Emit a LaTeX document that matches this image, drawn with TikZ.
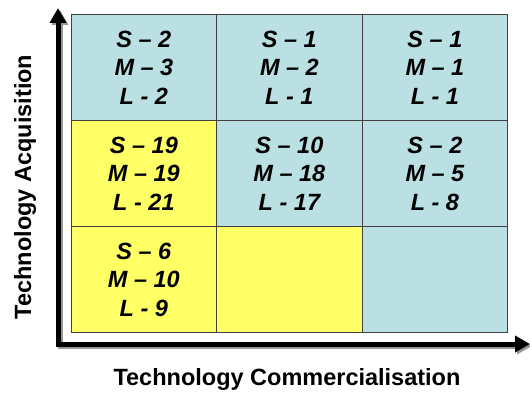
\documentclass[tikz,border=0pt]{standalone}
\usepackage{fontspec}
\setmainfont{Liberation Sans}
\usetikzlibrary{arrows.meta}
\definecolor{cellblue}{RGB}{187,224,228}
\definecolor{cellyellow}{RGB}{255,255,102}
\definecolor{gridline}{RGB}{64,64,64}
\definecolor{axisshade}{RGB}{150,150,150}
\begin{document}
\begin{tikzpicture}[x=1pt,y=-1pt,
  cell/.style={draw=gridline, line width=0.9pt, minimum width=145.5pt,
    minimum height=106pt, anchor=north west, inner sep=0pt, align=center,
    font=\fontsize{23.5}{28.5}\selectfont\bfseries\itshape},
  bluecell/.style={cell, fill=cellblue},
  yellowcell/.style={cell, fill=cellyellow},
  axisline/.style={line width=5pt, line join=miter,
    {Triangle[length=15pt,width=16pt]}-{Triangle[length=15pt,width=16pt]}},
  axislabel/.style={font=\fontsize{23.5}{28}\selectfont\bfseries}]
\useasboundingbox (0,0) rectangle (530,393);

% matrix of cells: columns left to right, rows top to bottom
\node[bluecell]   (c13) at (70.7,14)   {S – 2\\M – 3\\L - 2};
\node[bluecell]   (c23) at (216.2,14)  {S – 1\\M – 2\\L - 1};
\node[bluecell]   (c33) at (361.7,14)  {S – 1\\M – 1\\L - 1};
\node[yellowcell] (c12) at (70.7,120)  {S – 19\\M – 19\\L - 21};
\node[bluecell]   (c22) at (216.2,120) {S – 10\\M – 18\\L - 17};
\node[bluecell]   (c32) at (361.7,120) {S – 2\\M – 5\\L - 8};
\node[yellowcell] (c11) at (70.7,226)  {S – 6\\M – 10\\L - 9};
\node[yellowcell] (c21) at (216.2,226) {};
\node[bluecell]   (c31) at (361.7,226) {};

% axes with a soft shadow
\coordinate (origin) at (58,344);
\coordinate (ytip) at (58,8);
\coordinate (xtip) at (530,344);
\draw[axisline, draw=axisshade]
  ([shift={(2,2)}]ytip) -- ([shift={(2,2)}]origin) -- ([shift={(2,2)}]xtip);
\draw[axisline] (ytip) -- (origin) -- (xtip);

% axis titles
\node[axislabel] (xlabel) at (287,379) {Technology Commercialisation};
\node[axislabel, rotate=90] (ylabel) at (25,187) {Technology Acquisition};
\end{tikzpicture}
\end{document}
